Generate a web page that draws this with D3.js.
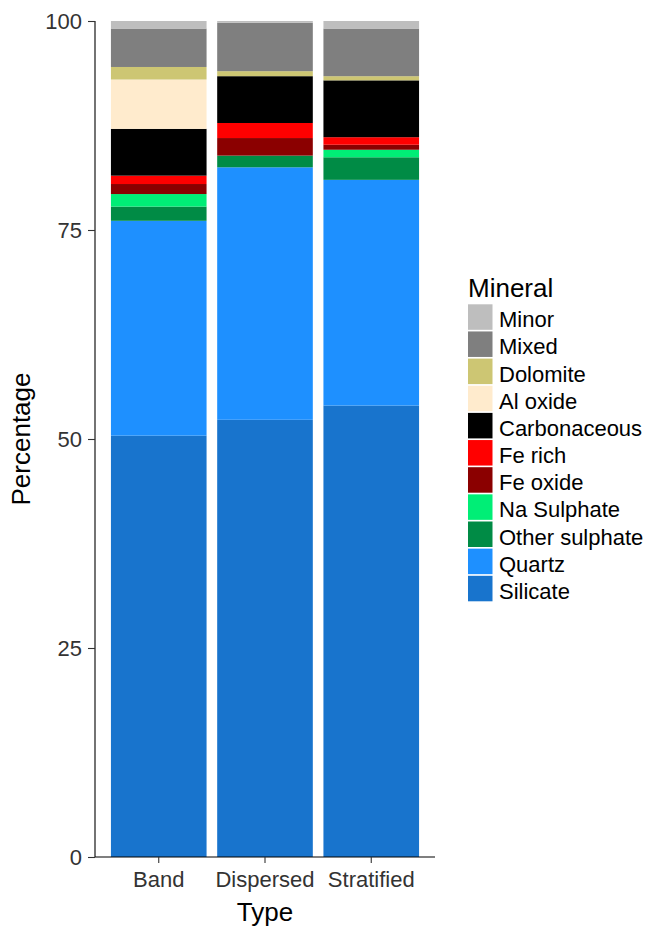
<!DOCTYPE html>
<html>
<head>
<meta charset="utf-8">
<script src="https://cdn.jsdelivr.net/npm/d3@7"></script>
<style>
  body { margin: 0; background: #fff; }
  svg { display: block; font-family: "Liberation Sans", Arial, sans-serif; }
</style>
</head>
<body>
<div id="chart"></div>
<script>
// categories on the x axis
var types = ['Band', 'Dispersed', 'Stratified'];

// stack order, bottom to top
var minerals = ['Silicate', 'Quartz', 'Other sulphate', 'Na Sulphate', 'Fe oxide', 'Fe rich',
  'Carbonaceous', 'Al oxide', 'Dolomite', 'Mixed', 'Minor'];

// percentages per type, same order as minerals
var band = [50.4, 25.7, 1.7, 1.5, 1.2, 1.0, 5.6, 5.9, 1.5, 4.6, 0.9];
var dispersed = [52.3, 30.2, 1.4, 0.0, 2.1, 1.8, 5.6, 0.0, 0.6, 5.8, 0.2];
var stratified = [54.0, 27.0, 2.7, 0.9, 0.6, 0.9, 6.8, 0.0, 0.5, 5.7, 0.9];

var yTicks = [0, 25, 50, 75, 100];

var colors = {
  'Minor': '#bebebe',
  'Mixed': '#7f7f7f',
  'Dolomite': '#cdc673',
  'Al oxide': '#ffebcd',
  'Carbonaceous': '#000000',
  'Fe rich': '#ff0000',
  'Fe oxide': '#8b0000',
  'Na Sulphate': '#00ee76',
  'Other sulphate': '#008b45',
  'Quartz': '#1e90ff',
  'Silicate': '#1874cd'
};

(function () {
  var W = 648, H = 929;
  var mLeft = 95, mRight = 435, mTop = 21, mBottom = 857;

  // rows for d3.stack
  var byType = [band, dispersed, stratified];
  var rows = types.map(function (t, i) {
    var r = { type: t };
    minerals.forEach(function (m, j) { r[m] = byType[i][j]; });
    return r;
  });

  var svg = d3.select('#chart').append('svg')
    .attr('width', W)
    .attr('height', H);

  var x = d3.scaleBand()
    .domain(types)
    .range([mLeft, mRight])
    .paddingInner(0.1)
    .paddingOuter(0.15);

  var y = d3.scaleLinear()
    .domain([0, 100])
    .range([mBottom, mTop]);

  var series = d3.stack().keys(minerals)(rows);

  svg.append('g')
    .selectAll('g')
    .data(series)
    .join('g')
    .attr('fill', function (d) { return colors[d.key]; })
    .selectAll('rect')
    .data(function (d) { return d; })
    .join('rect')
    .attr('x', function (d) { return x(d.data.type); })
    .attr('width', x.bandwidth())
    .attr('y', function (d) { return y(d[1]); })
    .attr('height', function (d) { return y(d[0]) - y(d[1]); });

  // y axis
  var yAxis = svg.append('g')
    .attr('transform', 'translate(' + mLeft + ',0)')
    .call(d3.axisLeft(y).tickValues(yTicks).tickSize(7).tickPadding(6));

  // x axis
  var xAxis = svg.append('g')
    .attr('transform', 'translate(0,' + mBottom + ')')
    .call(d3.axisBottom(x).tickSize(6).tickPadding(8));

  [yAxis, xAxis].forEach(function (g) {
    g.select('.domain').attr('stroke', '#000').attr('stroke-width', 1.1);
    g.selectAll('.tick line').attr('stroke', '#333').attr('stroke-width', 1.1);
    g.selectAll('.tick text')
      .attr('fill', '#333')
      .style('font-size', '22px')
      .style('font-family', '"Liberation Sans", Arial, sans-serif');
  });
  xAxis.select('.domain').attr('d', 'M' + mLeft + ',0H' + mRight);
  yAxis.select('.domain').attr('d', 'M0,' + mBottom + 'V' + mTop);

  // axis titles
  svg.append('text')
    .attr('x', (mLeft + mRight) / 2)
    .attr('y', 921)
    .attr('text-anchor', 'middle')
    .style('font-size', '26px')
    .text('Type');

  svg.append('text')
    .attr('transform', 'translate(30,' + (mTop + mBottom) / 2 + ') rotate(-90)')
    .attr('text-anchor', 'middle')
    .style('font-size', '26px')
    .text('Percentage');

  // legend
  var legend = svg.append('g').attr('transform', 'translate(468,0)');

  legend.append('text')
    .attr('x', 0)
    .attr('y', 297)
    .style('font-size', '26px')
    .text('Mineral');

  var keyOrder = minerals.slice().reverse();
  var keys = legend.selectAll('g.key')
    .data(keyOrder)
    .join('g')
    .attr('class', 'key')
    .attr('transform', function (d, i) { return 'translate(0,' + (304.3 + i * 27.15) + ')'; });

  keys.append('rect')
    .attr('width', 24.5)
    .attr('height', 25.5)
    .attr('fill', function (d) { return colors[d]; });

  keys.append('text')
    .attr('x', 31)
    .attr('y', 23)
    .style('font-size', '22px')
    .text(function (d) { return d; });
})();
</script>
</body>
</html>
